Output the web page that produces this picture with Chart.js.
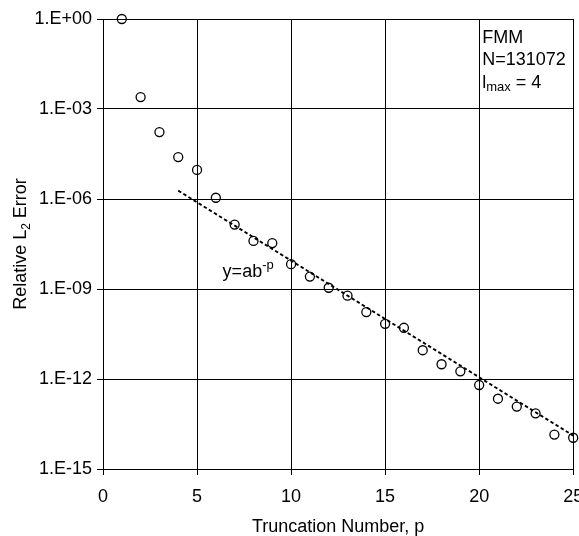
<!DOCTYPE html>
<html>
<head>
<meta charset="utf-8">
<script src="https://cdn.jsdelivr.net/npm/chart.js@4.4.1/dist/chart.umd.min.js"></script>
<style>
html,body{margin:0;padding:0;background:#fff;}
#wrap{width:579px;height:536px;position:relative;}
</style>
</head>
<body>
<div id="wrap"><canvas id="c" width="579" height="536"></canvas></div>
<script>
// ---- data ----
const pValues = [1,2,3,4,5,6,7,8,9,10,11,12,13,14,15,16,17,18,19,20,21,22,23,24,25];
const errValues = [1.0, 2.5e-3, 1.7e-4, 2.5e-5, 9.3e-6, 1.1e-6, 1.4e-7, 4.0e-8, 3.4e-8, 6.7e-9,
  2.6e-9, 1.1e-9, 6.0e-10, 1.7e-10, 6.9e-11, 5.1e-11, 9.1e-12, 3.1e-12, 1.8e-12, 6.3e-13,
  2.2e-13, 1.2e-13, 7.2e-14, 1.4e-14, 1.1e-14];
const fitP = [4, 25];
const fitErr = [1.9e-6, 1.3e-14];
const xTickValues = [0, 5, 10, 15, 20, 25];
const yTickValues = [1, 1e-3, 1e-6, 1e-9, 1e-12, 1e-15];
const yTickLabels = ['1.E+00', '1.E-03', '1.E-06', '1.E-09', '1.E-12', '1.E-15'];

const FONT = '"Liberation Sans", Arial, Helvetica, sans-serif';

function drawSub(ctx, parts, x, y, align) {
  let total = 0;
  parts.forEach(p => { ctx.font = p.size + 'px ' + FONT; p.w = ctx.measureText(p.t).width; total += p.w; });
  let cx = align === 'center' ? x - total / 2 : x;
  ctx.textAlign = 'left';
  parts.forEach(p => { ctx.font = p.size + 'px ' + FONT; ctx.fillText(p.t, cx, y + (p.dy || 0)); cx += p.w; });
}

const textPlugin = {
  id: 'texts',
  afterDraw(chart) {
    const ctx = chart.ctx;
    const a = chart.chartArea;
    const xs = chart.scales.x, ys = chart.scales.y;
    ctx.save();
    ctx.fillStyle = '#000';
    ctx.font = '18px ' + FONT;
    ctx.textAlign = 'center';
    ctx.textBaseline = 'middle';
    ctx.fillText('Truncation Number, p', (a.left + a.right) / 2, 527);
    ctx.textBaseline = 'alphabetic';
    ctx.save();
    ctx.translate(26, (a.top + a.bottom) / 2);
    ctx.rotate(-Math.PI / 2);
    drawSub(ctx, [{t:'Relative L', size:18}, {t:'2', size:12, dy:4}, {t:' Error', size:18}], 0, 0, 'center');
    ctx.restore();
    const tx = a.right - 91;
    drawSub(ctx, [{t:'FMM', size:18}], tx, a.top + 24, 'left');
    drawSub(ctx, [{t:'N=131072', size:18}], tx, a.top + 45.5, 'left');
    drawSub(ctx, [{t:'l', size:18}, {t:'max', size:13, dy:3}, {t:' = 4', size:18}], tx, a.top + 69, 'left');
    drawSub(ctx, [{t:'y=ab', size:18}, {t:'-p', size:13, dy:-8}], xs.getPixelForValue(6.36), ys.getPixelForValue(2.5e-9), 'left');
    ctx.restore();
  }
};

new Chart(document.getElementById('c'), {
  type: 'scatter',
  data: {
    datasets: [
      {
        label: 'data',
        data: pValues.map((p, i) => ({x: p, y: errValues[i]})),
        pointStyle: 'circle',
        pointRadius: 4.5,
        pointHoverRadius: 4.5,
        pointBorderWidth: 1.3,
        pointBorderColor: '#000',
        pointBackgroundColor: 'rgba(0,0,0,0)',
        showLine: false,
        clip: false,
        order: 2
      },
      {
        label: 'fit',
        data: fitP.map((p, i) => ({x: p, y: fitErr[i]})),
        showLine: true,
        borderColor: '#000',
        borderWidth: 1.9,
        borderDash: [3.5, 2.5],
        pointRadius: 0,
        pointHoverRadius: 0,
        fill: false,
        order: 1
      }
    ]
  },
  options: {
    responsive: false,
    animation: false,
    devicePixelRatio: 1,
    layout: { padding: { left: 0, top: 19, right: 4, bottom: 0 } },
    plugins: { legend: { display: false }, tooltip: { enabled: false } },
    scales: {
      x: {
        type: 'linear',
        min: 0, max: 25,
        afterFit(s) { s.height = 67; s.paddingLeft = 0; s.paddingRight = 0; },
        afterBuildTicks(s) { s.ticks = xTickValues.map(v => ({value: v})); },
        grid: { color: '#000', lineWidth: 1, tickLength: 6, tickColor: '#000', drawTicks: true },
        border: { color: '#000', width: 1 },
        ticks: { color: '#000', font: { family: FONT, size: 18 }, padding: 11, maxRotation: 0, callback: v => String(v) }
      },
      y: {
        type: 'logarithmic',
        min: 1e-15, max: 1,
        afterFit(s) { s.width = 103; s.paddingTop = 0; s.paddingBottom = 0; },
        afterBuildTicks(s) { s.ticks = yTickValues.map(v => ({value: v})); },
        grid: { color: '#000', lineWidth: 1, tickLength: 6, tickColor: '#000', drawTicks: true },
        border: { color: '#000', width: 1 },
        ticks: {
          color: '#000', font: { family: FONT, size: 18 }, padding: 5,
          callback: (v, i) => yTickLabels[yTickValues.findIndex(t => Math.abs(Math.log10(t) - Math.log10(v)) < 1e-6)]
        }
      }
    }
  },
  plugins: [textPlugin]
});
</script>
</body>
</html>
